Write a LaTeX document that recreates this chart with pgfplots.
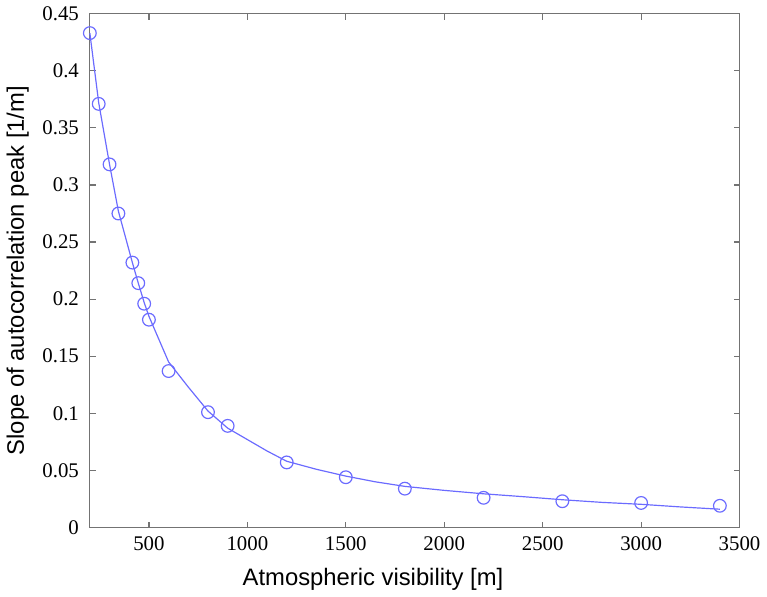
\documentclass[border=0pt]{standalone}
\usepackage{fontspec}
\setmainfont{Liberation Serif}
\newfontfamily\labelfont{Liberation Sans}
\usepackage{pgfplots}
\pgfplotsset{compat=1.18}
\definecolor{fitblue}{rgb}{0.42,0.42,1}
\definecolor{axgray}{rgb}{0.45,0.45,0.45}

\begin{document}
\begin{tikzpicture}
\begin{axis}[
    scale only axis,
    width=327.5pt, height=259pt,
    xmin=200, xmax=3500,
    ymin=0, ymax=0.45,
    xtick={500,1000,1500,2000,2500,3000,3500},
    ytick={0,0.05,0.1,0.15,0.2,0.25,0.3,0.35,0.4,0.45},
    scaled x ticks=false, scaled y ticks=false,
    /pgf/number format/assume math mode=true,
    xticklabel style={/pgf/number format/set thousands separator={}, yshift=-1pt},
    yticklabel style={/pgf/number format/fixed, /pgf/number format/precision=2, xshift=-2pt},
    tick label style={font=\fontsize{10.5}{12}\selectfont, black},
    tick align=inside,
    major tick length=3pt,
    axis line style={axgray, line width=0.6pt},
    tick style={axgray, line width=0.6pt},
    xlabel={Atmospheric visibility [m]},
    ylabel={Slope of autocorrelation peak [1/m]},
    label style={font=\labelfont\fontsize{12}{14}\selectfont},
    xlabel style={xshift=-21pt, yshift=-2pt},
    clip=false,
    ]
% measured points
\addplot[only marks, mark=o, mark size=3.2pt, fitblue, mark options={line width=0.6pt}] coordinates {
    (200,0.433) (245,0.371) (300,0.318) (345,0.275) (416,0.232) (446,0.214)
    (476,0.196) (500,0.182) (600,0.137) (800,0.101) (900,0.089) (1200,0.057)
    (1500,0.044) (1800,0.034) (2200,0.026) (2600,0.023) (3000,0.0215) (3400,0.019)
};
% fitted curve
\addplot[fitblue, line width=0.6pt, no marks] coordinates {
    (200,0.433) (245,0.372) (300,0.318) (345,0.277) (416,0.232) (446,0.214)
    (476,0.197) (500,0.185) (600,0.145) (700,0.123) (800,0.102) (900,0.087)
    (1000,0.077) (1100,0.067) (1200,0.058) (1350,0.051) (1500,0.045) (1650,0.040)
    (1800,0.036) (2000,0.0325) (2200,0.0295) (2400,0.027) (2600,0.0243)
    (2800,0.022) (3000,0.0203) (3200,0.018) (3400,0.016)
};
\end{axis}
\end{tikzpicture}
\end{document}
